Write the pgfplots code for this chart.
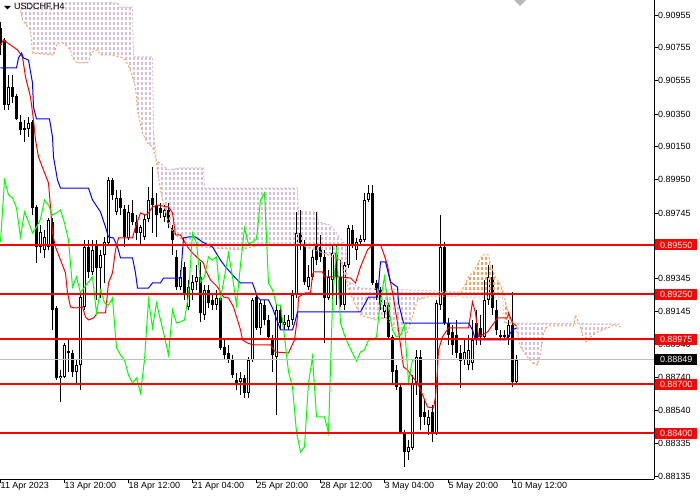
\documentclass[border=0pt]{standalone}
\usepackage{fontspec}
\setmainfont{Liberation Sans}
\usepackage{pgfplots}
\pgfplotsset{compat=1.18}
\usepackage{pgfplotstable}
\usetikzlibrary{patterns}

\definecolor{thistle}{RGB}{216,191,216}
\definecolor{sandy}{RGB}{244,164,96}
\definecolor{mtred}{RGB}{255,0,0}
\definecolor{mtblue}{RGB}{0,0,255}
\definecolor{mtlime}{RGB}{0,255,0}
\definecolor{silverline}{RGB}{192,192,192}

% vertical dashed hatching, one dash column every bar
\pgfdeclarepatternformonly{vdash}{\pgfqpoint{-0.5bp}{-0.5bp}}{\pgfqpoint{4.5bp}{5.5bp}}{\pgfqpoint{4bp}{5bp}}{%
  \pgfsetlinewidth{1.2bp}%
  \pgfpathmoveto{\pgfqpoint{2bp}{0bp}}%
  \pgfpathlineto{\pgfqpoint{2bp}{3bp}}%
  \pgfusepath{stroke}}

% USDCHF H4: bar, open, high, low, close
\pgfplotstableread{
k o h l c
0 0.90876 0.90913 0.90711 0.90772
1 0.90803 0.90815 0.90375 0.90405
2 0.90405 0.90589 0.90375 0.90515
3 0.90515 0.90589 0.90418 0.90454
4 0.90460 0.90473 0.90314 0.90320
5 0.90302 0.90344 0.90222 0.90253
6 0.90253 0.90314 0.90179 0.90265
7 0.90259 0.90332 0.90210 0.90295
8 0.90302 0.90314 0.89733 0.89776
9 0.89782 0.89794 0.89440 0.89538
10 0.89538 0.89672 0.89501 0.89629
11 0.89520 0.89642 0.89471 0.89599
12 0.89538 0.89715 0.89520 0.89703
13 0.89691 0.89715 0.89031 0.89153
14 0.89165 0.89177 0.88725 0.88737
15 0.88737 0.88786 0.88591 0.88750
16 0.88744 0.88951 0.88737 0.88939
17 0.88890 0.88970 0.88774 0.88902
18 0.88890 0.88909 0.88744 0.88774
19 0.88774 0.88847 0.88707 0.88817
20 0.88817 0.89245 0.88664 0.89232
21 0.89171 0.89581 0.89153 0.89538
22 0.89538 0.89581 0.89348 0.89385
23 0.89385 0.89581 0.89367 0.89520
24 0.89550 0.89581 0.89214 0.89410
25 0.89410 0.89520 0.89226 0.89489
26 0.89489 0.89599 0.89318 0.89568
27 0.89562 0.89966 0.89550 0.89947
28 0.89947 0.89959 0.89825 0.89856
29 0.89752 0.89886 0.89733 0.89837
30 0.89837 0.89886 0.89733 0.89776
31 0.89770 0.89794 0.89538 0.89599
32 0.89593 0.89794 0.89581 0.89752
33 0.89746 0.89825 0.89672 0.89691
34 0.89691 0.89733 0.89581 0.89623
35 0.89623 0.89672 0.89550 0.89660
36 0.89599 0.89733 0.89581 0.89709
37 0.89709 0.89904 0.89691 0.89825
38 0.89837 0.90027 0.89623 0.89794
39 0.89794 0.89868 0.89599 0.89733
40 0.89776 0.89807 0.89715 0.89746
41 0.89721 0.89794 0.89691 0.89764
42 0.89764 0.89807 0.89654 0.89684
43 0.89654 0.89672 0.89489 0.89581
44 0.89477 0.89520 0.89275 0.89293
45 0.89293 0.89397 0.89275 0.89355
46 0.89416 0.89446 0.89214 0.89257
47 0.89171 0.89336 0.89153 0.89293
48 0.89275 0.89367 0.89214 0.89324
49 0.89324 0.89428 0.89275 0.89355
50 0.89355 0.89446 0.89080 0.89135
51 0.89122 0.89306 0.89092 0.89275
52 0.89275 0.89306 0.89165 0.89196
53 0.89214 0.89245 0.89153 0.89183
54 0.89183 0.89275 0.89153 0.89226
55 0.89226 0.89245 0.88909 0.88921
56 0.88927 0.88970 0.88847 0.88878
57 0.88890 0.88939 0.88829 0.88847
58 0.88854 0.88878 0.88737 0.88756
59 0.88725 0.88768 0.88664 0.88707
60 0.88713 0.88774 0.88634 0.88737
61 0.88737 0.88756 0.88615 0.88646
62 0.88646 0.88866 0.88615 0.88847
63 0.88847 0.89226 0.88835 0.89214
64 0.89232 0.89257 0.89031 0.89043
65 0.89043 0.89214 0.89000 0.89196
66 0.89183 0.89214 0.89061 0.89092
67 0.89092 0.89122 0.88970 0.88988
68 0.88982 0.89000 0.88774 0.88878
69 0.88866 0.89183 0.88511 0.89153
70 0.89153 0.89183 0.89031 0.89073
71 0.89061 0.89122 0.89031 0.89080
72 0.89049 0.89122 0.89031 0.89092
73 0.89092 0.89275 0.89061 0.89245
74 0.89245 0.89752 0.89226 0.89623
75 0.89623 0.89764 0.89520 0.89562
76 0.89550 0.89581 0.89306 0.89324
77 0.89293 0.89428 0.89275 0.89355
78 0.89355 0.89520 0.89336 0.89477
79 0.89550 0.89752 0.89428 0.89458
80 0.89538 0.89611 0.89446 0.89477
81 0.89477 0.89520 0.88951 0.89226
82 0.89226 0.89397 0.89214 0.89355
83 0.89336 0.89550 0.89153 0.89501
84 0.89501 0.89550 0.89183 0.89355
85 0.89355 0.89458 0.89171 0.89183
86 0.89183 0.89446 0.89153 0.89428
87 0.89428 0.89672 0.89410 0.89654
88 0.89642 0.89672 0.89532 0.89556
89 0.89520 0.89593 0.89458 0.89568
90 0.89568 0.89611 0.89550 0.89587
91 0.89581 0.89868 0.89568 0.89825
92 0.89825 0.89917 0.89813 0.89868
93 0.89868 0.89917 0.89306 0.89318
94 0.89318 0.89336 0.89214 0.89275
95 0.89275 0.89293 0.89153 0.89183
96 0.89141 0.89214 0.89104 0.89183
97 0.89183 0.89196 0.88970 0.88988
98 0.88988 0.89000 0.88707 0.88774
99 0.88786 0.88817 0.88664 0.88682
100 0.88682 0.88707 0.88395 0.88407
101 0.88407 0.88420 0.88194 0.88285
102 0.88285 0.88359 0.88236 0.88316
103 0.88310 0.88756 0.88298 0.88707
104 0.88707 0.88909 0.88634 0.88866
105 0.88866 0.88909 0.88420 0.88499
106 0.88530 0.88603 0.88450 0.88499
107 0.88450 0.88542 0.88389 0.88499
108 0.88530 0.88572 0.88346 0.88401
109 0.88401 0.89214 0.88389 0.89196
110 0.89183 0.89733 0.89153 0.89538
111 0.89538 0.89568 0.89061 0.89073
112 0.89073 0.89104 0.88939 0.89000
113 0.89018 0.89061 0.88878 0.88939
114 0.89000 0.89092 0.88860 0.88890
115 0.88890 0.88939 0.88676 0.88841
116 0.88847 0.88970 0.88817 0.88896
117 0.88817 0.89000 0.88786 0.88909
118 0.88829 0.89092 0.88786 0.88970
119 0.89073 0.89153 0.88939 0.88970
120 0.89043 0.89122 0.88939 0.88988
121 0.88988 0.89336 0.88970 0.89214
122 0.89214 0.89428 0.89183 0.89355
123 0.89355 0.89428 0.89122 0.89165
124 0.89153 0.89214 0.89000 0.89031
125 0.89000 0.89031 0.88970 0.88988
126 0.88988 0.89031 0.88970 0.89000
127 0.88988 0.89092 0.88939 0.89061
128 0.89061 0.89263 0.88682 0.88713
129 0.88713 0.88878 0.88695 0.88849
}\ohlc

\begin{document}
\begin{tikzpicture}
\useasboundingbox (0,0) rectangle (700bp,500bp);
\begin{axis}[
  at={(0bp,21bp)}, anchor=south west,
  scale only axis, width=654bp, height=479bp,
  xmin=-0.125, xmax=163.375, ymin=0.88120, ymax=0.91047,
  axis x line*=bottom, axis y line*=right,
  axis line style={black, line width=1bp, -},
  tick align=outside, major tick length=4bp,
  tick style={black, line width=1bp},
  xtick={0,16,32,48,64,80,96,112,128},
  xticklabels={11 Apr 2023, 13 Apr 20:00, 18 Apr 12:00, 21 Apr 04:00, 25 Apr 20:00, 28 Apr 12:00, 3 May 04:00, 5 May 20:00, 10 May 12:00},
  xticklabel style={anchor=north west, xshift=0bp, yshift=1bp},
  ytick={0.90955,0.90755,0.90555,0.90350,0.90150,0.89950,0.89745,0.89550,0.89345,0.89145,0.88940,0.88740,0.88540,0.88335,0.88135},
  yticklabels={0.90955,0.90755,0.90555,0.90350,0.90150,0.89950,0.89745,,0.89345,0.89145,0.88940,0.88740,0.88540,0.88335,0.88135},
  yticklabel style={anchor=west, xshift=0bp},
  every tick label/.append style={font=\fontsize{9}{10}\selectfont, inner sep=0pt, text=black},
]
% candles: wicks, bodies, hollow bull bodies
\addplot[draw=none, mark=none, forget plot, error bars/.cd, y dir=plus, y explicit, error mark=none,
  error bar style={draw=black, line width=1bp}]
  table[x=k, y=l, y error plus expr={\thisrow{h}-\thisrow{l}}] {\ohlc};
\addplot[draw=none, mark=none, forget plot, error bars/.cd, y dir=plus, y explicit, error mark=none,
  error bar style={draw=black, line width=3bp}]
  table[x=k, y expr={min(\thisrow{o},\thisrow{c})}, y error plus expr={max(abs(\thisrow{c}-\thisrow{o}),0.00006)}] {\ohlc};
\addplot[draw=none, mark=none, forget plot, error bars/.cd, y dir=plus, y explicit, error mark=none,
  error bar style={draw=white, line width=1bp}]
  table[x=k, y expr={\thisrow{o}+0.00006}, y error plus expr={max(\thisrow{c}-\thisrow{o}-0.00012,0)}] {\ohlc};

% ichimoku cloud hatching: span B above span A (thistle), A above B (sandy)
\addplot[draw=none, pattern=vdash, pattern color=thistle, forget plot] coordinates {(4.5,0.91030) (4.75,0.91004) (5.5,0.90925) (7.5,0.90864) (8,0.90723) (13.25,0.90711) (14.25,0.90784) (15.75,0.90784) (17.5,0.90742) (18,0.90693) (19.25,0.90662) (21.75,0.90662) (23,0.90729) (24.25,0.90742) (25,0.90711) (27.5,0.90711) (30,0.90699) (31.25,0.90680) (32.5,0.90619) (33.75,0.90515) (34.25,0.90375) (35.5,0.90234) (36.75,0.90173) (38,0.90149) (38.75,0.90088) (40,0.89886) (42,0.89672) (43.75,0.89611) (47.5,0.89550) (52.5,0.89532) (60,0.89520) (65,0.89550) (75,0.89550) (80,0.89507) (85,0.89458) (86,0.89360) (87.5,0.89250) (88.75,0.89183) (90,0.89122) (93.75,0.89092) (96.25,0.89104) (97.5,0.89073) (99.25,0.89031) (100.75,0.88970) (102,0.89031) (103.25,0.89135) (104.25,0.89214) (107.5,0.89238) (114.5,0.89238) (115.04,0.89261) (115,0.89263) (90,0.89287) (86.75,0.89330) (86.25,0.89550) (82.5,0.89672) (79.5,0.89691) (79.25,0.89752) (74.5,0.89752) (74.25,0.89898) (51,0.89898) (50.75,0.90021) (45,0.90021) (42,0.90008) (39,0.90070) (38.25,0.90253) (38,0.90699) (33.25,0.90699) (33,0.91004) (29.6,0.91004) (29.5,0.91029) (27.75,0.91029) (27.5,0.91230) (4.5,0.91230)} -- cycle;
\addplot[draw=none, pattern=vdash, pattern color=sandy, forget plot] coordinates {(115.04,0.89261) (116,0.89300) (117,0.89355) (118.25,0.89385) (120.5,0.89489) (122,0.89489) (122.5,0.89428) (123.75,0.89355) (125,0.89306) (125.75,0.89257) (126.75,0.89153) (127.5,0.89092) (128.3,0.89072) (126,0.89073) (125.5,0.89232) (115.5,0.89232)} -- cycle;
\addplot[draw=none, pattern=vdash, pattern color=thistle, forget plot] coordinates {(128.3,0.89072) (128.75,0.89061) (130,0.88927) (131.75,0.88866) (133,0.88829) (134.25,0.88817) (135,0.88890) (135.75,0.89012) (136.75,0.89055) (143.25,0.89055) (143.75,0.89122) (144.25,0.89092) (145,0.89043) (145.75,0.88970) (146.75,0.88957) (147.5,0.88988) (149.25,0.89018) (151.75,0.89043) (153.25,0.89061) (155,0.89049) (155,0.89067)} -- cycle;
% senkou span A and B
\addplot[sandy, line width=1bp, dash pattern=on 2bp off 2bp] coordinates {(4.5,0.91030) (4.75,0.91004) (5.5,0.90925) (7.5,0.90864) (8,0.90723) (13.25,0.90711) (14.25,0.90784) (15.75,0.90784) (17.5,0.90742) (18,0.90693) (19.25,0.90662) (21.75,0.90662) (23,0.90729) (24.25,0.90742) (25,0.90711) (27.5,0.90711) (30,0.90699) (31.25,0.90680) (32.5,0.90619) (33.75,0.90515) (34.25,0.90375) (35.5,0.90234) (36.75,0.90173) (38,0.90149) (38.75,0.90088) (40,0.89886) (42,0.89672) (43.75,0.89611) (47.5,0.89550) (52.5,0.89532) (60,0.89520) (65,0.89550) (75,0.89550) (80,0.89507) (85,0.89458) (86,0.89360) (87.5,0.89250) (88.75,0.89183) (90,0.89122) (93.75,0.89092) (96.25,0.89104) (97.5,0.89073) (99.25,0.89031) (100.75,0.88970) (102,0.89031) (103.25,0.89135) (104.25,0.89214) (107.5,0.89238) (114.5,0.89238) (116,0.89300) (117,0.89355) (118.25,0.89385) (120.5,0.89489) (122,0.89489) (122.5,0.89428) (123.75,0.89355) (125,0.89306) (125.75,0.89257) (126.75,0.89153) (127.5,0.89092) (128.75,0.89061) (130,0.88927) (131.75,0.88866) (133,0.88829) (134.25,0.88817) (135,0.88890) (135.75,0.89012) (136.75,0.89055) (143.25,0.89055) (143.75,0.89122) (144.25,0.89092) (145,0.89043) (145.75,0.88970) (146.75,0.88957) (147.5,0.88988) (149.25,0.89018) (151.75,0.89043) (153.25,0.89061) (155,0.89049)};
\addplot[thistle, line width=1bp, dash pattern=on 2bp off 2bp] coordinates {(4.5,0.91230) (27.5,0.91230) (27.75,0.91029) (29.5,0.91029) (29.6,0.91004) (33,0.91004) (33.25,0.90699) (38,0.90699) (38.25,0.90253) (39,0.90070) (42,0.90008) (45,0.90021) (50.75,0.90021) (51,0.89898) (74.25,0.89898) (74.5,0.89752) (79.25,0.89752) (79.5,0.89691) (82.5,0.89672) (86.25,0.89550) (86.75,0.89330) (90,0.89287) (115,0.89263) (115.5,0.89232) (125.5,0.89232) (126,0.89073) (155,0.89067)};

% tenkan-sen
\addplot[mtred, line width=1bp] coordinates {(0,0.90772) (0.75,0.90803) (4.25,0.90742) (5.5,0.90699) (6.25,0.90577) (7.5,0.90454) (8.25,0.90314) (8.75,0.90192) (9.5,0.90088) (10.75,0.90008) (12,0.89929) (12.5,0.89782) (13,0.89623) (13.75,0.89538) (15,0.89458) (16.25,0.89379) (16.75,0.89257) (17.5,0.89171) (18.75,0.89165) (20.5,0.89171) (21.25,0.89110) (22,0.89092) (23.25,0.89104) (24.25,0.89135) (26.25,0.89135) (27,0.89318) (28,0.89379) (28.75,0.89520) (29.5,0.89593) (33,0.89593) (33.75,0.89660) (35,0.89746) (36.25,0.89733) (37,0.89746) (38,0.89782) (39.25,0.89794) (42,0.89782) (43,0.89746) (43.75,0.89611) (45,0.89611) (46.75,0.89538) (48,0.89501) (49.25,0.89471) (50.75,0.89440) (51.25,0.89397) (52.5,0.89336) (54.25,0.89293) (55.75,0.89232) (57,0.89226) (58.25,0.89171) (59.25,0.89092) (60,0.89031) (60.5,0.88970) (61.75,0.88951) (63.25,0.88939) (67.5,0.88939) (68,0.88921) (68.75,0.88896) (72,0.88890) (73.5,0.88970) (74.25,0.89110) (74.5,0.89232) (76.25,0.89257) (77.5,0.89257) (78,0.89367) (78.25,0.89385) (80.5,0.89385) (81,0.89355) (85,0.89355) (87.5,0.89348) (88.75,0.89318) (90,0.89416) (91.75,0.89520) (93,0.89550) (95,0.89550) (95.75,0.89501) (96.75,0.89428) (97.25,0.89355) (98.25,0.89226) (99.25,0.89073) (100.75,0.88805) (101.75,0.88786) (103,0.88744) (104.25,0.88707) (105.75,0.88621) (106.75,0.88560) (108.25,0.88554) (108.75,0.88621) (109.25,0.88786) (109.5,0.88909) (110.5,0.88988) (112,0.89043) (117,0.89043) (118,0.89202) (118.75,0.89135) (119.5,0.88988) (121.75,0.89018) (124.25,0.89104) (126.75,0.89104) (127,0.89135) (128,0.89073) (129,0.89055)};
% kijun-sen
\addplot[mtblue, line width=1bp] coordinates {(0,0.90632) (4,0.90632) (4.5,0.90693) (5.25,0.90723) (5.75,0.90693) (7,0.90680) (8,0.90540) (8.25,0.90393) (9,0.90320) (12.25,0.90320) (13,0.90210) (13.25,0.90088) (14.25,0.89947) (15,0.89898) (22,0.89898) (23,0.89825) (25,0.89752) (26.25,0.89660) (27,0.89599) (28.25,0.89593) (29.25,0.89538) (30,0.89471) (33,0.89471) (33.75,0.89379) (34.25,0.89287) (37,0.89287) (38,0.89318) (40,0.89318) (40.75,0.89348) (45,0.89348) (45.75,0.89593) (47,0.89599) (48.75,0.89599) (50.5,0.89568) (53,0.89538) (55,0.89458) (56.25,0.89416) (58.75,0.89348) (60,0.89318) (63,0.89318) (64.25,0.89232) (65,0.89214) (67,0.89214) (68,0.89165) (70,0.89031) (73,0.89031) (73.75,0.89092) (74.25,0.89141) (90,0.89141) (92,0.89232) (94.25,0.89232) (95,0.89446) (96.25,0.89446) (96.75,0.89397) (97.5,0.89324) (99.25,0.89293) (99.5,0.89196) (100.75,0.89073) (117,0.89073) (118,0.89031) (118.75,0.88970) (126.25,0.88970) (128,0.89031) (129,0.89043)};
% chikou span
\addplot[mtlime, line width=1bp] coordinates {(0,0.89568) (1,0.89947) (2,0.89856) (3,0.89837) (4,0.89776) (5,0.89599) (6,0.89752) (7,0.89691) (8,0.89623) (9,0.89660) (10,0.89709) (11,0.89825) (12,0.89794) (13,0.89733) (14,0.89746) (15,0.89764) (16,0.89684) (17,0.89581) (18,0.89293) (19,0.89355) (20,0.89257) (21,0.89293) (22,0.89324) (23,0.89355) (24,0.89135) (25,0.89275) (26,0.89196) (27,0.89183) (28,0.89226) (29,0.88921) (30,0.88878) (31,0.88847) (32,0.88756) (33,0.88707) (34,0.88737) (35,0.88646) (36,0.88847) (37,0.89214) (38,0.89043) (39,0.89196) (40,0.89092) (41,0.88988) (42,0.88878) (43,0.89153) (44,0.89073) (45,0.89080) (46,0.89092) (47,0.89245) (48,0.89623) (49,0.89562) (50,0.89324) (51,0.89355) (52,0.89477) (53,0.89458) (54,0.89477) (55,0.89226) (56,0.89355) (57,0.89501) (58,0.89355) (59,0.89183) (60,0.89428) (61,0.89654) (62,0.89556) (63,0.89568) (64,0.89587) (65,0.89825) (66,0.89868) (67,0.89318) (68,0.89275) (69,0.89183) (70,0.89183) (71,0.88988) (72,0.88774) (73,0.88682) (74,0.88407) (75,0.88285) (76,0.88316) (77,0.88707) (78,0.88866) (79,0.88499) (80,0.88499) (81,0.88499) (82,0.88401) (83,0.89196) (84,0.89538) (85,0.89073) (86,0.89000) (87,0.88939) (88,0.88890) (89,0.88841) (90,0.88896) (91,0.88909) (92,0.88970) (93,0.88970) (94,0.88988) (95,0.89214) (96,0.89355) (97,0.89165) (98,0.89031) (99,0.88988) (100,0.89000) (101,0.89061) (102,0.88713) (103,0.88849)};

% bid line and horizontal levels
\addplot[silverline, line width=1bp] coordinates {(-0.125,0.88849) (163.375,0.88849)};
\addplot[mtred, line width=2.5bp] coordinates {(-0.125,0.89550) (163.375,0.89550)};
\addplot[mtred, line width=2.5bp] coordinates {(-0.125,0.89250) (163.375,0.89250)};
\addplot[mtred, line width=2.5bp] coordinates {(-0.125,0.88975) (163.375,0.88975)};
\addplot[mtred, line width=2.5bp] coordinates {(-0.125,0.88700) (163.375,0.88700)};
\addplot[mtred, line width=2.5bp] coordinates {(-0.125,0.88400) (163.375,0.88400)};

\coordinate (r1) at (axis cs:163.375,0.89550);
\coordinate (r2) at (axis cs:163.375,0.89250);
\coordinate (r3) at (axis cs:163.375,0.88975);
\coordinate (r4) at (axis cs:163.375,0.88700);
\coordinate (r5) at (axis cs:163.375,0.88400);
\coordinate (bid) at (axis cs:163.375,0.88849);
\end{axis}

\tikzset{lvl/.style={fill=mtred, text=white, anchor=west, minimum width=42bp, minimum height=11bp,
  inner sep=0pt, font=\fontsize{9}{10}\selectfont}}
\node[lvl] at ([xshift=1bp]r1) {0.89550};
\node[lvl] at ([xshift=1bp]r2) {0.89250};
\node[lvl] at ([xshift=1bp]r3) {0.88975};
\node[lvl] at ([xshift=1bp]r4) {0.88700};
\node[lvl] at ([xshift=1bp]r5) {0.88400};
\node[lvl, fill=black] at ([xshift=1bp]bid) {0.88849};

% chart title and shift marker
\fill[black] (4bp,494bp) -- (11bp,494bp) -- (7.5bp,490.5bp) -- cycle;
\node[anchor=west, inner sep=0pt, font=\fontsize{9}{10}\selectfont] at (14bp,493bp) {USDCHF,H4};
\fill[gray!55] (514bp,500bp) -- (526bp,500bp) -- (520bp,494bp) -- cycle;
\end{tikzpicture}
\end{document}
